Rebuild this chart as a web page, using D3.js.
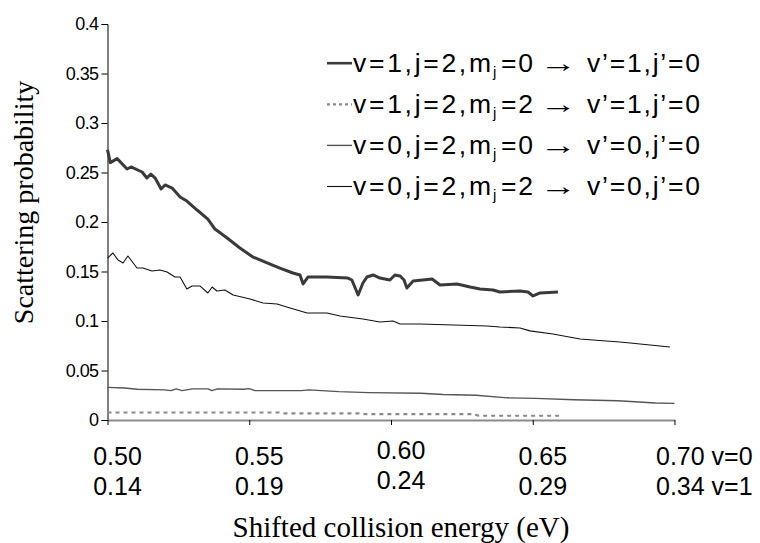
<!DOCTYPE html>
<html>
<head>
<meta charset="utf-8">
<script src="https://cdn.jsdelivr.net/npm/d3@7"></script>
<style>
  html, body { margin: 0; padding: 0; background: #fff; }
  svg { display: block; }
</style>
</head>
<body>
<svg id="chart" width="760" height="543"></svg>
<script>
// ---------- data ----------
const yTickValues = [0, 0.05, 0.1, 0.15, 0.2, 0.25, 0.3, 0.35, 0.4];
const yTickLabels = ["0", "0.05", "0.1", "0.15", "0.2", "0.25", "0.3", "0.35", "0.4"];
const xTickValues = [0.50, 0.55, 0.60, 0.65, 0.70];
const xTickLabelsV0 = ["0.50", "0.55", "0.60", "0.65", "0.70"];
const xTickLabelsV1 = ["0.14", "0.19", "0.24", "0.29", "0.34"];
const xTickSuffixV0 = ["", "", "", "", " v=0"];
const xTickSuffixV1 = ["", "", "", "", " v=1"];

// v=1, j=2, mj=0 -> v'=1, j'=0
const s1X = [0.500,0.501,0.5034,0.5069,0.5083,0.5122,0.5139,0.5153,0.5168,0.5189,0.5203,0.5228,0.5256,0.528,0.5316,0.5354,0.5379,0.5422,0.5467,0.5513,0.5563,0.5608,0.5654,0.5679,0.569,0.5707,0.5774,0.5848,0.5862,0.5884,0.5901,0.5915,0.5937,0.5961,0.5996,0.6014,0.6032,0.6046,0.6056,0.6078,0.6145,0.6173,0.6233,0.6279,0.6314,0.636,0.6384,0.6455,0.6483,0.6501,0.6526,0.6589];
const s1Y = [0.273,0.260,0.264,0.2535,0.2556,0.2505,0.2444,0.2485,0.2444,0.2333,0.2374,0.2343,0.2253,0.2212,0.2121,0.203,0.1929,0.1838,0.1737,0.1646,0.1586,0.1535,0.1485,0.1465,0.1374,0.1444,0.1444,0.1434,0.1414,0.1263,0.1384,0.1444,0.1465,0.1434,0.1414,0.1465,0.1455,0.1414,0.1333,0.1404,0.1424,0.1364,0.1374,0.1343,0.1323,0.1313,0.1293,0.1303,0.1293,0.1253,0.1283,0.1293];

// v=1, j=2, mj=2 -> v'=1, j'=0
const s2X = [0.500, 0.530, 0.5605, 0.5625, 0.589, 0.591, 0.629, 0.631, 0.6605];
const s2Y = [0.0076, 0.0076, 0.0076, 0.0066, 0.0066, 0.0060, 0.0060, 0.0043, 0.0043];

// v=0, j=2, mj=0 -> v'=0, j'=0
const s3X = [0.500,0.506,0.5105,0.520,0.5224,0.5243,0.5263,0.530,0.5355,0.5368,0.5388,0.548,0.550,0.552,0.5684,0.571,0.5816,0.592,0.6105,0.6184,0.630,0.641,0.651,0.6645,0.680,0.6934,0.700];
const s3Y = [0.033,0.0323,0.031,0.0304,0.0297,0.0314,0.0297,0.0314,0.0314,0.0297,0.0314,0.031,0.0317,0.0297,0.0297,0.0304,0.0287,0.0277,0.027,0.0257,0.025,0.0224,0.0218,0.0205,0.0195,0.0172,0.0168];

// v=0, j=2, mj=2 -> v'=0, j'=0
const s4X = [0.500,0.5019,0.5037,0.5055,0.5072,0.5104,0.5125,0.5157,0.5185,0.521,0.5238,0.5256,0.528,0.5298,0.5326,0.5354,0.5369,0.5386,0.5414,0.5443,0.5503,0.5549,0.5598,0.5644,0.5704,0.5774,0.582,0.5901,0.5961,0.6007,0.6032,0.6102,0.6339,0.6384,0.6455,0.649,0.6571,0.6667,0.6712,0.6808,0.6914,0.6984];
const s4Y = [0.1636,0.1687,0.1616,0.1586,0.1657,0.1535,0.1535,0.1505,0.1515,0.1495,0.1444,0.1444,0.1323,0.1354,0.1354,0.1283,0.1343,0.1303,0.1313,0.1263,0.1222,0.1182,0.1172,0.1131,0.1081,0.1081,0.1051,0.102,0.099,0.1,0.097,0.097,0.095,0.094,0.093,0.09,0.0869,0.0818,0.0808,0.0788,0.0758,0.0737];

const seriesNames = ["s1", "s2", "s3", "s4"];
const legendPre = ["v=1,j=2,m", "v=1,j=2,m", "v=0,j=2,m", "v=0,j=2,m"];
const legendMid = ["=0", "=2", "=0", "=2"];
const legendPost = ["v\u2019=1,j\u2019=0", "v\u2019=1,j\u2019=0", "v\u2019=0,j\u2019=0", "v\u2019=0,j\u2019=0"];

// ---------- layout / style ----------
const svg = d3.select("#chart");
const x = d3.scaleLinear().domain([0.5, 0.7]).range([107.5, 674.5]);
const y = d3.scaleLinear().domain([0, 0.4]).range([420, 24]);

const styles = {
  s1: { stroke: "#3a3a3a", width: 3, dash: null },
  s2: { stroke: "#8a8a8a", width: 2.2, dash: "4,4" },
  s3: { stroke: "#555", width: 1.4, dash: null },
  s4: { stroke: "#111", width: 1.1, dash: null }
};
const seriesData = {
  s1: s1X.map((v, i) => [v, s1Y[i]]),
  s2: s2X.map((v, i) => [v, s2Y[i]]),
  s3: s3X.map((v, i) => [v, s3Y[i]]),
  s4: s4X.map((v, i) => [v, s4Y[i]])
};

// y axis
const yAxis = d3.axisLeft(y).tickValues(yTickValues)
  .tickFormat((d, i) => yTickLabels[i]).tickSize(6).tickPadding(3);
const gy = svg.append("g").attr("transform", "translate(107.5,0)").call(yAxis);
gy.select(".domain").attr("stroke", "#000").attr("stroke-width", 1);
gy.selectAll(".tick line").attr("stroke", "#000");
gy.selectAll(".tick text")
  .attr("font-family", "'Liberation Sans', Arial, sans-serif")
  .attr("font-size", 18).attr("fill", "#000").attr("letter-spacing", -0.6);

// x axis
const xAxis = d3.axisBottom(x).tickValues(xTickValues).tickFormat("").tickSize(5).tickSizeOuter(0);
const gx = svg.append("g").attr("transform", "translate(0,420)").call(xAxis);
gx.select(".domain").attr("stroke", "#8c8c8c").attr("stroke-width", 2.2);
gx.selectAll(".tick line").attr("stroke", "#000");

// x tick labels (two rows)
const xLab = svg.append("g")
  .attr("font-family", "'Liberation Sans', Arial, sans-serif")
  .attr("font-size", 25).attr("fill", "#000");
xTickValues.forEach((v, i) => {
  const dy = (i === 2) ? -6 : 0;
  const last = i === xTickValues.length - 1;
  const cx = x(v) + 10;
  const t1 = xLab.append("text").attr("y", 464.5 + dy);
  const t2 = xLab.append("text").attr("y", 494.5 + dy);
  if (last) {
    t1.attr("x", x(v) - 18.5).attr("text-anchor", "start").text(xTickLabelsV0[i] + xTickSuffixV0[i]);
    t2.attr("x", x(v) - 18.5).attr("text-anchor", "start").text(xTickLabelsV1[i] + xTickSuffixV1[i]);
  } else {
    t1.attr("x", cx).attr("text-anchor", "middle").text(xTickLabelsV0[i]);
    t2.attr("x", cx).attr("text-anchor", "middle").text(xTickLabelsV1[i]);
  }
});

// axis titles
svg.append("text")
  .attr("x", 401).attr("y", 537).attr("text-anchor", "middle")
  .attr("font-family", "'Liberation Serif', 'Times New Roman', serif")
  .attr("font-size", 29).attr("fill", "#000")
  .text("Shifted collision energy (eV)");
svg.append("text")
  .attr("transform", "translate(33,202.5) rotate(-90)")
  .attr("text-anchor", "middle")
  .attr("font-family", "'Liberation Serif', 'Times New Roman', serif")
  .attr("font-size", 28).attr("fill", "#000")
  .text("Scattering probability");

// series lines
const line = d3.line().x(d => x(d[0])).y(d => y(d[1]));
seriesNames.forEach(k => {
  const st = styles[k];
  svg.append("path").datum(seriesData[k])
    .attr("d", line).attr("fill", "none")
    .attr("stroke", st.stroke).attr("stroke-width", st.width)
    .attr("stroke-dasharray", st.dash)
    .attr("stroke-linejoin", "round");
});

// legend
const legBase = [71.7, 112.8, 153.9, 195];
const leg = svg.append("g")
  .attr("font-family", "'Liberation Sans', Arial, sans-serif")
  .attr("fill", "#000");
seriesNames.forEach((k, i) => {
  const st = styles[k];
  const by = legBase[i];
  leg.append("line").attr("x1", 327).attr("x2", 352)
    .attr("y1", by - 8.5).attr("y2", by - 8.5)
    .attr("stroke", st.stroke).attr("stroke-width", st.width === 3 ? 2.6 : st.width)
    .attr("stroke-dasharray", st.dash ? "3,3" : null);
  leg.append("text").attr("x", 353).attr("y", by).attr("font-size", 26.5)
    .attr("textLength", 138).attr("lengthAdjust", "spacing").text(legendPre[i]);
  leg.append("text").attr("x", 493).attr("y", by + 5).attr("font-size", 15).text("j");
  leg.append("text").attr("x", 501).attr("y", by).attr("font-size", 26.5)
    .attr("textLength", 32).attr("lengthAdjust", "spacing").text(legendMid[i]);
  leg.append("text").attr("x", 540).attr("y", by).attr("font-size", 26)
    .attr("textLength", 37).attr("lengthAdjust", "spacingAndGlyphs").text("\u2192");
  leg.append("text").attr("x", 587).attr("y", by).attr("font-size", 26.5)
    .attr("textLength", 113).attr("lengthAdjust", "spacing").text(legendPost[i]);
});
</script>
</body>
</html>
